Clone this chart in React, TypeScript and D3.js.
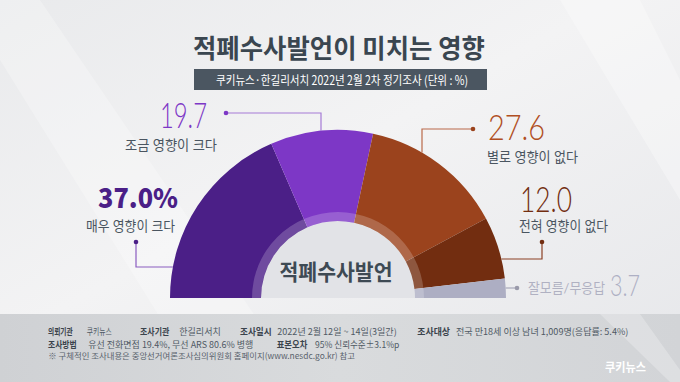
import React from 'react';
import * as d3 from 'd3';

const categories = ['매우 영향이 크다', '조금 영향이 크다', '별로 영향이 없다', '전혀 영향이 없다', '잘모름/무응답'];
const values = [37.0, 19.7, 27.6, 12.0, 3.7];
const valueTexts = ['37.0%', '19.7', '27.6', '12.0', '3.7'];
const titleText = '적폐수사발언이 미치는 영향';
const subtitleText = '쿠키뉴스·한길리서치 2022년 2월 2차 정기조사 (단위 : %)';
const centerText = '적폐수사발언';

const sliceColors = ['#4b1f87', '#7d37c6', '#9b431d', '#722d10', '#adaec3'];
const numColors = ['#4b1f87', '#7d37c6', '#b04e22', '#722d10', '#aeb0c4'];
const lineColors = ['#8a5cc0', '#a57ad6', '#b9694a', '#8c4024', '#a9a9b9'];
const dotColors = ['#4b1f87', '#7d37c6', '#9b431d', '#722d10', '#9a9aaa'];

const W = 680, H = 382, CX = 338, CY = 298, R = 168, R_IN = 77, R_RING = 86;
const KR = "'Noto Sans CJK KR', 'Noto Sans', sans-serif";
const KR_TIGHT = "Lato, 'Noto Sans CJK KR', sans-serif";

// label layout (positions only)
const numPos = [
  { x: 98, y: 208, len: 80, size: 27, weight: 900, font: "'Noto Sans CJK KR', sans-serif" },
  { x: 160, y: 128, len: 47, size: 35, weight: 300, font: "Lato, 'Noto Sans', sans-serif" },
  { x: 488, y: 140, len: 57, size: 35, weight: 300, font: "Lato, 'Noto Sans', sans-serif" },
  { x: 520, y: 212, len: 52, size: 36, weight: 300, font: "Lato, 'Noto Sans', sans-serif" },
  { x: 610, y: 296, len: 30, size: 29, weight: 300, font: "Lato, 'Noto Sans', sans-serif" },
];
const catPos = [
  { x: 86, y: 231, len: 89 },
  { x: 125, y: 150, len: 92 },
  { x: 487, y: 162, len: 91 },
  { x: 519, y: 231, len: 89 },
  { x: 528, y: 293, len: 77 },
];

const footer1 = [
  { t: '의뢰기관', x: 48, x2: 72.7, b: true },
  { t: '쿠키뉴스', x: 86.7, x2: 111.7, b: false },
  { t: '조사기관', x: 140, x2: 169.3, b: true },
  { t: '한길리서치', x: 179.3, x2: 220.7, b: false },
  { t: '조사일시', x: 240, x2: 271.7, b: true },
  { t: '2022년 2월 12일 ~ 14일(3일간)', x: 277.3, x2: 396.7, b: false },
  { t: '조사대상', x: 417.3, x2: 450, b: true },
  { t: '전국  만18세 이상 남녀  1,009명(응답률: 5.4%)', x: 456, x2: 628.3, b: false },
];
const footer2 = [
  { t: '조사방법', x: 48, x2: 76.7, b: true },
  { t: '유선 전화면접 19.4%, 무선 ARS 80.6% 병행', x: 88.3, x2: 253.3, b: false },
  { t: '표본오차', x: 276.7, x2: 307.3, b: true },
  { t: '95% 신뢰수준±3.1%p', x: 315, x2: 399.3, b: false },
];
const footer3 = '※ 구체적인 조사내용은 중앙선거여론조사심의위원회 홈페이지(www.nesdc.go.kr) 참고';

function edgeXAtY(y: number, side: number) {
  const dy = CY - y;
  return CX + side * Math.sqrt(R * R - dy * dy);
}
function edgeYAtX(x: number) {
  const dx = x - CX;
  return CY - Math.sqrt(R * R - dx * dx);
}

export default function App() {
  const pie = d3.pie<number>().sort(null).startAngle(-Math.PI / 2).endAngle(Math.PI / 2);
  const arcs = pie(values);
  const arcGen = d3.arc<d3.PieArcDatum<number>>().innerRadius(R_IN).outerRadius(R);
  const ringArc = d3.arc<any>().innerRadius(R_IN).outerRadius(R_RING).startAngle(-Math.PI / 2).endAngle(Math.PI / 2);
  const innerArc = d3.arc<any>().innerRadius(0).outerRadius(R_IN).startAngle(-Math.PI / 2).endAngle(Math.PI / 2);

  // leader paths
  const leaders: { dot: [number, number]; pts: [number, number][] }[] = [];
  {
    const y0 = 267;
    leaders.push({ dot: [136, 242], pts: [[136, 242], [136, y0], [edgeXAtY(y0, -1), y0]] });
    const x1 = 321;
    leaders.push({ dot: [226, 113], pts: [[226, 113], [x1, 113], [x1, edgeYAtX(x1)]] });
    const x2 = 422;
    leaders.push({ dot: [473, 129], pts: [[473, 129], [x2, 129], [x2, edgeYAtX(x2)]] });
    const y3 = 259;
    leaders.push({ dot: [542, 242], pts: [[542, 242], [542, y3], [edgeXAtY(y3, 1), y3]] });
    leaders.push({ dot: [517, 288], pts: [[517, 288], [edgeXAtY(288, 1), 288]] });
  }
  const line = d3.line();

  return (
    <svg width={W} height={H} style={{ position: 'absolute', left: 0, top: 0 }} fontFamily={KR}>
      <defs>
        <linearGradient id="bg" x1="0" y1="0" x2="1" y2="1">
          <stop offset="0" stopColor="#e9eaec" />
          <stop offset="0.45" stopColor="#f3f3f4" />
          <stop offset="1" stopColor="#e6e7ea" />
        </linearGradient>
        <linearGradient id="band" x1="0" y1="0" x2="1" y2="0">
          <stop offset="0" stopColor="#cfd1d4" />
          <stop offset="0.5" stopColor="#d9dbdd" />
          <stop offset="1" stopColor="#d2d4d7" />
        </linearGradient>
      </defs>
      <rect x={0} y={0} width={W} height={H} fill="url(#bg)" />
      <polygon points="0,60 0,0 40,0 300,382 200,382" fill="#ffffff" opacity={0.25} />
      <polygon points="560,0 640,0 680,80 680,200" fill="#ffffff" opacity={0.3} />
      <rect x={0} y={314} width={W} height={H - 314} fill="url(#band)" />
      <polygon points="600,314 640,314 680,370 680,382 670,382" fill="#ffffff" opacity={0.25} />

      {/* title */}
      <text x={339} y={58} textAnchor="middle" fontSize={26} fontWeight={700} fill="#3a4650" textLength={292} lengthAdjust="spacingAndGlyphs">{titleText}</text>
      <rect x={194} y={69} width={293} height={21} fill="#4b5661" />
      <text x={342} y={84.5} textAnchor="middle" fontSize={12.5} fill="#ffffff" textLength={252} lengthAdjust="spacingAndGlyphs">{subtitleText}</text>

      {/* semi donut */}
      <path d={innerArc({}) as string} transform={`translate(${CX},${CY})`} fill="#e2e3e7" />
      <g transform={`translate(${CX},${CY})`}>
        {arcs.map((a, i) => (
          <path key={i} d={arcGen(a) as string} fill={sliceColors[i]} />
        ))}
        <path d={ringArc({}) as string} fill="#ffffff" opacity={0.2} />
      </g>
      <text x={CX - 2} y={280} textAnchor="middle" fontSize={22} fontWeight={700} fill="#3e4a54" textLength={113} lengthAdjust="spacingAndGlyphs">{centerText}</text>

      {/* leaders */}
      {leaders.map((l, i) => (
        <g key={i}>
          <path d={line(l.pts) as string} fill="none" stroke={lineColors[i]} strokeWidth={1.2} />
          <circle cx={l.dot[0]} cy={l.dot[1]} r={2.3} fill={dotColors[i]} />
        </g>
      ))}

      {/* labels */}
      {values.map((v, i) => (
        <g key={i}>
          <text x={numPos[i].x} y={numPos[i].y} fontFamily={numPos[i].font} fontSize={numPos[i].size} fontWeight={numPos[i].weight} fill={numColors[i]} textLength={numPos[i].len} lengthAdjust="spacingAndGlyphs">{valueTexts[i]}</text>
          <text x={catPos[i].x} y={catPos[i].y} fontFamily={KR_TIGHT} fontSize={13.5} fill={i === 4 ? '#b0b1c2' : '#4a5560'} textLength={catPos[i].len} lengthAdjust="spacingAndGlyphs">{categories[i]}</text>
        </g>
      ))}

      {/* footer */}
      {footer1.map((f, i) => (
        <text key={'a' + i} x={f.x} y={335} fontSize={9} fontWeight={f.b ? 700 : 400} fill={f.b ? '#3a434c' : '#4f5964'} textLength={f.x2 - f.x} lengthAdjust="spacingAndGlyphs">{f.t}</text>
      ))}
      {footer2.map((f, i) => (
        <text key={'b' + i} x={f.x} y={347.5} fontSize={9} fontWeight={f.b ? 700 : 400} fill={f.b ? '#3a434c' : '#4f5964'} textLength={f.x2 - f.x} lengthAdjust="spacingAndGlyphs">{f.t}</text>
      ))}
      <text x={48.3} y={359} fontSize={8.5} fill="#5a636d" textLength={306.7} lengthAdjust="spacingAndGlyphs">{footer3}</text>

      <text x={605} y={372} fontSize={12} fontWeight={700} fill="#ffffff" textLength={41} lengthAdjust="spacingAndGlyphs">쿠키뉴스</text>
    </svg>
  );
}
